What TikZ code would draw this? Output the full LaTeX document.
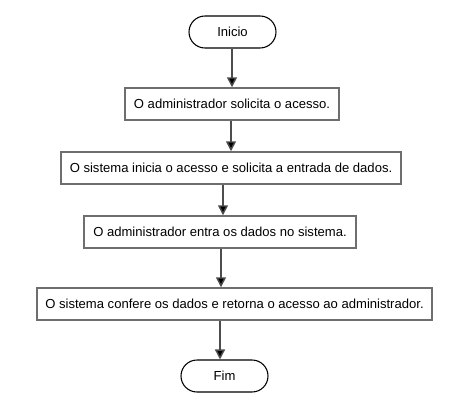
\documentclass[tikz,border=0pt]{standalone}
\usepackage{fontspec}
\setmainfont{Liberation Sans}
\usetikzlibrary{arrows.meta}
\definecolor{linegray}{HTML}{4D4D4D}
\definecolor{boxgray}{HTML}{6E6E6E}
\tikzset{
	box/.style={draw=boxgray, line width=1.1pt, minimum height=24pt, inner sep=0pt, font=\fontsize{9.8}{12}\selectfont},
	term/.style={draw=black, line width=0.8pt, rounded corners=12pt, minimum width=65.25pt, minimum height=24pt, inner sep=0pt, font=\fontsize{9.8}{12}\selectfont},
	arr/.style={draw=linegray, line width=1.1pt, -{Triangle[length=7.5pt, width=7.5pt, fill=black]}}
}
\begin{document}
\begin{tikzpicture}[x=0.75pt, y=-0.75pt]
			%%%%% START %%%%%
			\useasboundingbox (0, 0) rectangle (452, 411);
			
			\node[term] (inicio) at (232.5, 32) {Inicio};
			\node[box, minimum width=160.5pt] (pedido) at (232, 104) {O administrador solicita o acesso.};
			\node[box, minimum width=255pt] (inicia) at (231, 168) {O sistema inicia o acesso e solicita a entrada de dados.};
			\node[box, minimum width=204pt] (entra) at (220, 232) {O administrador entra os dados no sistema.};
			\node[box, minimum width=296.25pt] (confere) at (234.5, 304) {O sistema confere os dados e retorna o acesso ao administrador.};
			\node[term] (fim) at (224.5, 376) {Fim};
			
			\draw[arr] (inicio.south -| 232, 0) -- (pedido.north -| 232, 0);
			\draw[arr] (pedido.south -| 231, 0) -- (inicia.north -| 231, 0);
			\draw[arr] (inicia.south -| 223, 0) -- (entra.north -| 223, 0);
			\draw[arr] (entra.south -| 221, 0) -- (confere.north -| 221, 0);
			\draw[arr] (confere.south -| 220, 0) -- (fim.north -| 220, 0);
			
			%%%%% END %%%%%
\end{tikzpicture}
\end{document}
